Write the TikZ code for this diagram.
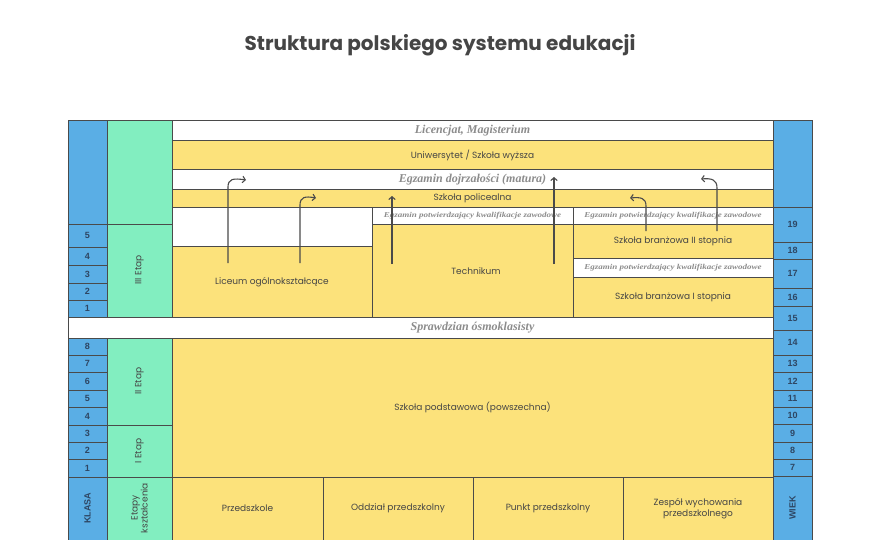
\documentclass[tikz,border=0pt]{standalone}
\usepackage{fontspec}
\setmainfont{Poppins}
\newfontfamily\egzfont{Liberation Serif}
\newfontfamily\nrfont{Liberation Sans}
\usetikzlibrary{arrows.meta}

\definecolor{niebieski}{HTML}{5AAEE5}
\definecolor{zielony}{HTML}{82EEC0}
\definecolor{zolty}{HTML}{FCE27B}
\definecolor{ramka}{HTML}{4A4A4A}
\definecolor{tekst}{HTML}{454545}
\definecolor{szary}{HTML}{8C8C8C}
\definecolor{granat}{HTML}{2E4663}

\begin{document}
\begin{tikzpicture}[x=1pt, y=-1pt,
  cell/.style={draw=ramka, line width=1pt},
  opis/.style={font=\fontsize{9}{11}\selectfont, text=tekst, align=center},
  egz/.style={font=\egzfont\bfseries\itshape\fontsize{12}{14}\selectfont, text=szary},
  egzmaly/.style={font=\egzfont\bfseries\itshape\fontsize{7.5}{8}\selectfont, text=szary, xscale=1.2},
  nr/.style={font=\nrfont\bfseries\fontsize{9}{10}\selectfont, text=granat},
  strzalka/.style={draw=ramka, line width=1.1pt, -{Straight Barb[length=2.8pt, width=6.5pt]}}]

\useasboundingbox (0,0) rectangle (880,540);
\clip (0,0) rectangle (880,540);
\fill[white] (0,0) rectangle (880,540);

\node[font=\bfseries\fontsize{20}{24}\selectfont, text=tekst] (tytul) at (440,45) {Struktura polskiego systemu edukacji};

% kolumna klasa
\draw[cell, fill=niebieski] (68,121) rectangle (107,224);
\foreach \n/\ya/\yb in {5/224/247, 4/247/265, 3/265/283, 2/283/300, 1/300/317} {
    \draw[cell, fill=niebieski] (68,\ya) rectangle (107,\yb);
    \node[nr] (ka\n) at (87.5,{(\ya+\yb)/2}) {\n};
}
\foreach \n/\ya/\yb in {8/338/355, 7/355/372, 6/372/390, 5/390/407, 4/407/425, 3/425/442, 2/442/459, 1/459/477} {
    \draw[cell, fill=niebieski] (68,\ya) rectangle (107,\yb);
    \node[nr] (kb\n) at (87.5,{(\ya+\yb)/2}) {\n};
}
\draw[cell, fill=niebieski] (68,477) rectangle (107,542);
\node[nr, rotate=90] (klasa) at (87.5,508) {KLASA};

% kolumna wiek
\draw[cell, fill=niebieski] (773,121) rectangle (812,207);
\foreach \n/\ya/\yb in {19/207/242, 18/242/259, 17/259/288, 16/288/306, 15/306/330, 14/330/355, 13/355/372, 12/372/390, 11/390/407, 10/407/424, 9/424/442, 8/442/459, 7/459/476} {
    \draw[cell, fill=niebieski] (773,\ya) rectangle (812,\yb);
    \node[nr] (w\n) at (792.5,{(\ya+\yb)/2}) {\n};
}
\draw[cell, fill=niebieski] (773,476) rectangle (812,542);
\node[nr, rotate=90] (wiek) at (792.5,508) {WIEK};

% etapy
\draw[cell, fill=zielony] (107,121) rectangle (172,224);
\draw[cell, fill=zielony] (107,224) rectangle (172,317);
\draw[cell, fill=zielony] (107,338) rectangle (172,425);
\draw[cell, fill=zielony] (107,425) rectangle (172,477);
\draw[cell, fill=zielony] (107,477) rectangle (172,542);
\node[opis, rotate=90] (etap3) at (139.5,270) {III Etap};
\node[opis, rotate=90] (etap2) at (139.5,381) {II Etap};
\node[opis, rotate=90] (etap1) at (139.5,451) {I Etap};
\node[opis, rotate=90, font=\fontsize{9}{10}\selectfont] (etapy) at (139.5,508) {Etapy\\kształcenia};

% szkoly wyzsze
\draw[cell, fill=white] (172,121) rectangle (773,141);
\node[egz] (licencjat) at (472.5,131) {Licencjat, Magisterium};
\draw[cell, fill=zolty] (172,141) rectangle (773,170);
\node[opis] (uczelnia) at (472.5,155.5) {Uniwersytet / Szkoła wyższa};
\draw[cell, fill=white] (172,170) rectangle (773,190);
\node[egz] (matura) at (472.5,180) {Egzamin dojrzałości (matura)};
\draw[cell, fill=zolty] (172,190) rectangle (773,207);
\node[opis] (policealna) at (472.5,198.5) {Szkoła policealna};

% szkoly ponadpodstawowe
\draw[cell, fill=white] (172,207) rectangle (372,246);
\draw[cell, fill=zolty] (172,246) rectangle (372,317);
\node[opis] (liceum) at (272,282) {Liceum ogólnokształcące};
\draw[cell, fill=white] (372,207) rectangle (573,224);
\node[egzmaly] (egztech) at (472.5,215.5) {Egzamin potwierdzający kwalifikacje zawodowe};
\draw[cell, fill=zolty] (372,224) rectangle (573,317);
\node[opis] (technikum) at (476,271) {Technikum};
\draw[cell, fill=white] (573,207) rectangle (773,224);
\node[egzmaly] (egzbr2) at (673,215.5) {Egzamin potwierdzający kwalifikacje zawodowe};
\draw[cell, fill=zolty] (573,224) rectangle (773,258);
\node[opis] (branzowa2) at (673,241) {Szkoła branżowa II stopnia};
\draw[cell, fill=white] (573,258) rectangle (773,277);
\node[egzmaly] (egzbr1) at (673,267.5) {Egzamin potwierdzający kwalifikacje zawodowe};
\draw[cell, fill=zolty] (573,277) rectangle (773,317);
\node[opis] (branzowa1) at (673,297) {Szkoła branżowa I stopnia};

% sprawdzian i podstawowka
\draw[cell, fill=white] (68,317) rectangle (773,338);
\node[egz] (sprawdzian) at (472.5,327.5) {Sprawdzian ósmoklasisty};
\draw[cell, fill=zolty] (172,338) rectangle (773,477);
\node[opis] (podstawowa) at (472.5,407) {Szkoła podstawowa (powszechna)};

% wychowanie przedszkolne
\draw[cell, fill=zolty] (172,477) rectangle (323,542);
\node[opis] (przedszkole) at (247.5,508) {Przedszkole};
\draw[cell, fill=zolty] (323,477) rectangle (473,542);
\node[opis] (oddzial) at (398,508) {Oddział przedszkolny};
\draw[cell, fill=zolty] (473,477) rectangle (623,542);
\node[opis] (punkt) at (548,508) {Punkt przedszkolny};
\draw[cell, fill=zolty] (623,477) rectangle (773,542);
\node[opis] (zespol) at (698,509) {Zespół wychowania\\przedszkolnego};

% strzalki
\coordinate (lic1) at (228,263);
\coordinate (lic1b) at (246,180);
\coordinate (lic2) at (300,263);
\coordinate (lic2b) at (316,198);
\coordinate (tech1) at (392,264);
\coordinate (tech1b) at (392,196);
\coordinate (tech2) at (554,264);
\coordinate (tech2b) at (554,177);
\coordinate (br1) at (646,231);
\coordinate (br1b) at (630,198);
\coordinate (br2) at (717,231);
\coordinate (br2b) at (701,179);
\draw[strzalka] (lic1) -- (228,187) .. controls (228,179) and (233,178) .. (lic1b);
\draw[strzalka] (lic2) -- (300,205) .. controls (300,197) and (305,196) .. (lic2b);
\draw[strzalka] (tech1) -- (tech1b);
\draw[strzalka] (tech2) -- (tech2b);
\draw[strzalka] (br1) -- (646,206) .. controls (646,198) and (641,197) .. (br1b);
\draw[strzalka] (br2) -- (717,188) .. controls (717,180) and (712,178) .. (br2b);
\end{tikzpicture}
\end{document}
